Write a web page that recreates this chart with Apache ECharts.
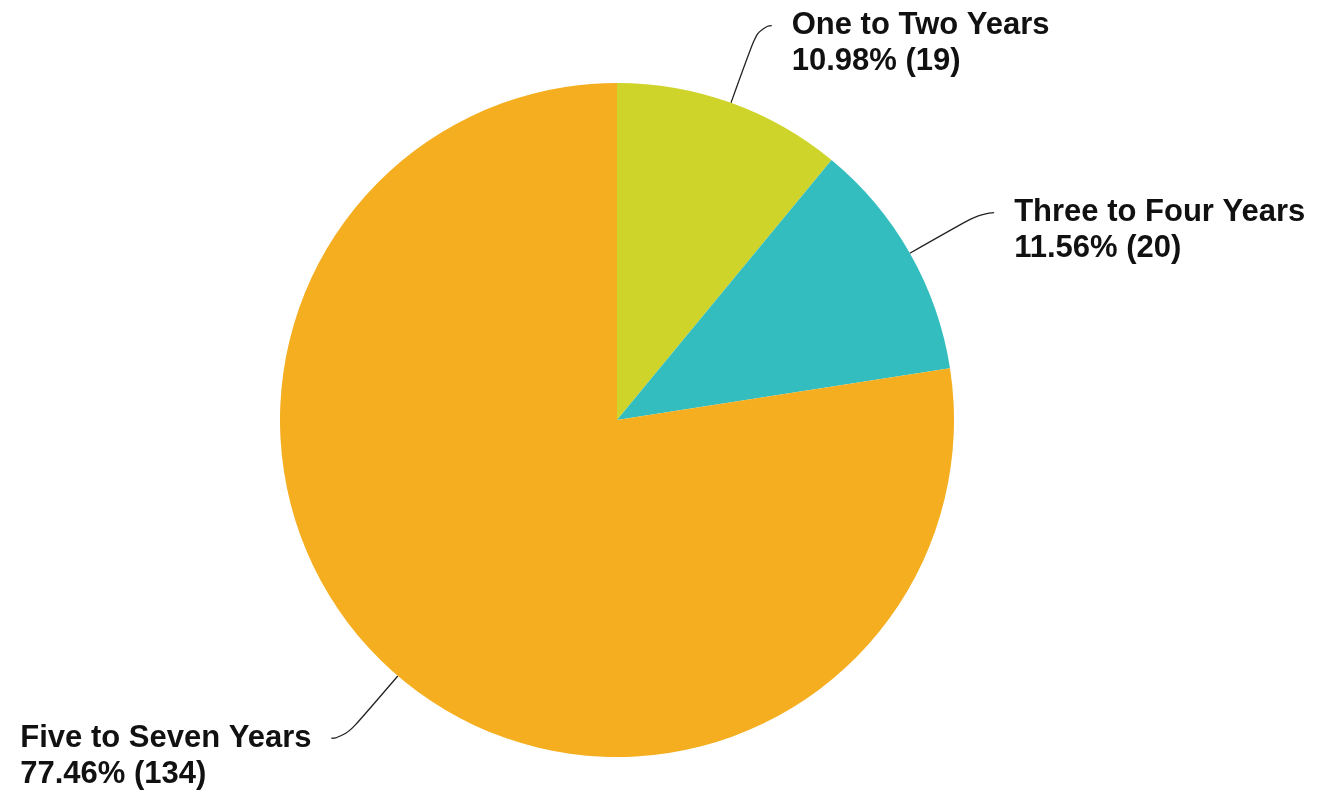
<!DOCTYPE html>
<html>
<head>
<meta charset="utf-8">
<title>Years</title>
<script src="https://cdn.jsdelivr.net/npm/echarts@6/dist/echarts.min.js"></script>
<style>
  html, body { margin: 0; padding: 0; background: #ffffff; }
  #chart { width: 1317px; height: 793px; }
</style>
</head>
<body>
<div id="chart"></div>
<script>
// Slice names and respondent counts, clockwise from 12 o'clock
const categories = ['One to Two Years', 'Three to Four Years', 'Five to Seven Years'];
const counts = [19, 20, 134];
const sliceColors = ['#CFD42A', '#33BDBF', '#F5AE1F'];

const chart = echarts.init(document.getElementById('chart'), null, { renderer: 'canvas' });

const pieData = categories.map((name, i) => ({
  name: name,
  value: counts[i],
  itemStyle: { color: sliceColors[i] }
}));

const labelFont = {
  fontFamily: '"Liberation Sans", Arial, sans-serif',
  fontSize: 31,
  fontWeight: 'bold',
  color: '#111111',
  lineHeight: 36,
  align: 'left'
};

chart.setOption({
  animation: false,
  backgroundColor: '#ffffff',
  series: [{
    type: 'pie',
    center: [617, 420],
    radius: [0, 337],
    startAngle: 90,
    clockwise: true,
    avoidLabelOverlap: false,
    percentPrecision: 2,
    data: pieData,
    itemStyle: { borderWidth: 0 },
    emphasis: { disabled: true },
    label: {
      show: true,
      position: 'outside',
      distanceToLabelLine: 20,
      padding: [36, 0, 0, 0],
      fontFamily: labelFont.fontFamily,
      fontSize: labelFont.fontSize,
      fontWeight: labelFont.fontWeight,
      color: labelFont.color,
      lineHeight: labelFont.lineHeight,
      formatter: function (p) {
        return '{t|' + p.name + '}\n{t|' + p.percent.toFixed(2) + '% (' + p.value + ')}';
      },
      rich: { t: labelFont }
    },
    labelLine: {
      show: true,
      length: 82,
      length2: 13,
      smooth: 0.7,
      lineStyle: { color: '#222222', width: 1.3 }
    }
  }]
});
</script>
</body>
</html>
